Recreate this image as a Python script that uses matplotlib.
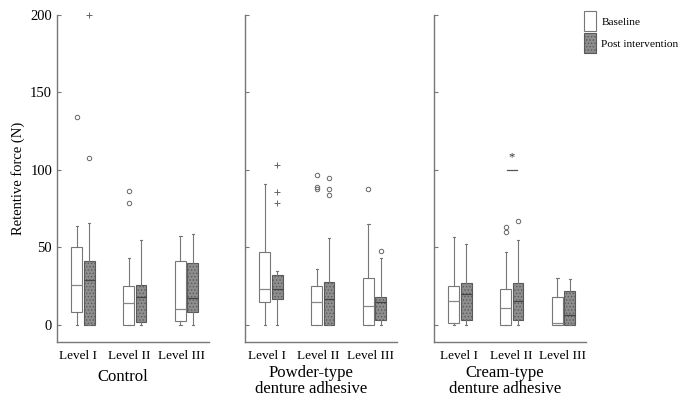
import matplotlib.pyplot as plt
from matplotlib.patches import Patch

plt.rcParams['font.family'] = 'Liberation Serif'
plt.rcParams['hatch.linewidth'] = 0.6

groups = ["Control", "Powder-type\ndenture adhesive", "Cream-type\ndenture adhesive"]
levels = ["Level I", "Level II", "Level III"]

# box stats per panel, per level: (whislo, q1, med, q3, whishi)
base = [
    [(0, 8.5, 26, 50.5, 64), (0, 0, 14, 25, 43.5), (0, 2.5, 10, 41, 57.5)],
    [(0, 14.5, 23, 47, 91), (0, 0, 15, 25, 36), (0, 0, 12, 30.5, 65)],
    [(0, 1.5, 15.5, 25, 57), (0, 0, 11, 23, 47), (0, 0, 1.5, 18, 30)],
]
post = [
    [(0, 0, 29, 41, 66), (0, 2, 18, 26, 54.5), (0, 8.5, 17.5, 40, 58.5)],
    [(0, 17, 23, 32, 35), (0, 0, 16.5, 28, 56), (0, 3, 14.5, 18, 43)],
    [(0, 3, 20, 27, 52), (0, 3.5, 15.5, 27, 55), (0, 0, 6.5, 22, 29.5)],
]
# outliers (circles) and extremes (+)
base_out = [[[134], [86.7, 79], []], [[], [96.5, 89, 88], [88]], [[], [63, 60], []]]
post_out = [[[107.5], [], []], [[], [95, 87.5, 84], [48]], [[], [67], []]]
base_ext = [[[], [], []], [[], [], []], [[], [], []]]
post_ext = [[[200], [], []], [[103, 85.5, 79], [], []], [[], [], []]]
# significance mark: panel, level, line height, star height
sig = (2, 1, 100, 108)

fig = plt.figure(figsize=(6.83, 4.03), dpi=100)
W, H = 683, 403
lefts = [57, 245, 434]
tick_shift = [-0.1, -0.08, -0.02]
label_x = [0.43, 0.434, 0.467]
label_y = [-0.107, -0.118, -0.118]
off = 0.12
bw = 0.21

def stats(data, outs):
    res = []
    for (lo, q1, med, q3, hi), fl in zip(data, outs):
        res.append(dict(whislo=lo, q1=q1, med=med, q3=q3, whishi=hi, fliers=fl))
    return res

flier = dict(marker='o', markersize=3.2, markerfacecolor='none',
             markeredgecolor='#666666', markeredgewidth=0.7, linestyle='none')

for p in range(3):
    ax = fig.add_axes([lefts[p] / W, (H - 342) / H, 152 / W, (342 - 15) / H])
    pos = [1, 2, 3]
    ax.bxp(stats(base[p], base_out[p]), positions=[x - off for x in pos], widths=bw,
           patch_artist=True, capwidths=0.04, flierprops=flier,
           boxprops=dict(facecolor='white', edgecolor='#777777', linewidth=0.8),
           whiskerprops=dict(color='#777777', linewidth=0.8),
           capprops=dict(color='#777777', linewidth=0.8),
           medianprops=dict(color='#888888', linewidth=0.9))
    ax.bxp(stats(post[p], post_out[p]), positions=[x + off for x in pos], widths=bw,
           patch_artist=True, capwidths=0.04, flierprops=flier,
           boxprops=dict(facecolor='#8e8e8e', edgecolor='#5a5a5a', linewidth=0.8, hatch='.....'),
           whiskerprops=dict(color='#777777', linewidth=0.8),
           capprops=dict(color='#777777', linewidth=0.8),
           medianprops=dict(color='#444444', linewidth=0.9))
    for i in range(3):
        for v in base_ext[p][i]:
            ax.plot(pos[i] - off, v, marker='+', color='#666666', markersize=4,
                    markeredgewidth=0.7, clip_on=False)
        for v in post_ext[p][i]:
            ax.plot(pos[i] + off, v, marker='+', color='#666666', markersize=4,
                    markeredgewidth=0.7, clip_on=False)
    if p == sig[0]:
        x = pos[sig[1]]
        ax.plot([x - 0.1, x + 0.1], [sig[2], sig[2]], color='#555555', linewidth=0.9)
        ax.text(x, sig[3], '*', ha='center', va='center', fontsize=9, color='#333333')

    ax.set_xlim(0.5, 3.43)
    ax.set_ylim(-11, 200)
    ax.set_xticks([x + tick_shift[p] for x in pos])
    ax.set_xticklabels(levels, fontsize=9.5)
    ax.set_yticks([0, 50, 100, 150, 200])
    ax.tick_params(axis='x', length=0, pad=6)
    ax.tick_params(axis='y', direction='in', length=3, color='#777777', labelsize=10.5)
    for s in ['top', 'right']:
        ax.spines[s].set_visible(False)
    for s in ['left', 'bottom']:
        ax.spines[s].set_color('#777777')
        ax.spines[s].set_linewidth(1.0)
    if p == 0:
        ax.set_ylabel("Retentive force (N)", fontsize=10.5)
    else:
        ax.set_yticklabels([])
    ax.set_xlabel(groups[p], fontsize=12, linespacing=1.0)
    ax.xaxis.set_label_coords(label_x[p], label_y[p], transform=ax.transAxes)
    ax.xaxis.label.set_va('center')

handles = [Patch(facecolor='white', edgecolor='#777777', linewidth=0.8),
           Patch(facecolor='#8e8e8e', edgecolor='#5a5a5a', linewidth=0.8, hatch='.....')]
fig.legend(handles, ["Baseline", "Post intervention"], loc='upper left',
           bbox_to_anchor=(574 / W, 1 - 1 / H), frameon=False, fontsize=8.2,
           handlelength=1.0, handleheight=2.3, handletextpad=0.5, labelspacing=0.2)

fig.savefig("out.png", dpi=100)
